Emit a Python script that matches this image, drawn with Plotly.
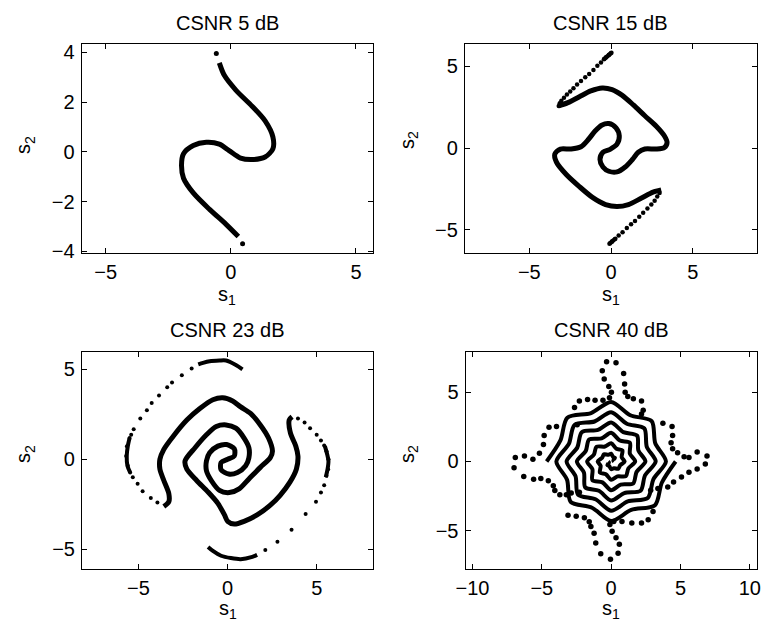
import plotly.graph_objects as go

# ---------------- data ----------------
titles = ["CSNR 5 dB", "CSNR 15 dB", "CSNR 23 dB", "CSNR 40 dB"]

# CSNR 5 dB
sp1_line_x = [-0.46, -0.26, 0.20, 0.85, 1.37, 1.68, 1.68, 1.37, 0.85, 0.39, -0.07, -0.46, -0.98, -1.50, -1.89, -1.97, -1.89, -1.50, -0.85, -0.20, 0.30]
sp1_line_y = [3.57, 3.07, 2.48, 1.83, 1.24, 0.60, 0.12, -0.21, -0.31, -0.25, 0.05, 0.31, 0.38, 0.25, -0.08, -0.54, -1.06, -1.65, -2.31, -2.90, -3.40]
sp1_dot_x = [-0.58, 0.47]
sp1_dot_y = [3.95, -3.69]

# CSNR 15 dB
sp2_line_x = [-3.20, -2.64, -1.94, -1.24, -0.54, 0.06, 0.66, 1.36, 2.06, 2.76, 3.26, 3.42, 3.26, 2.76, 2.06, 1.66, 1.30, 0.86, 0.36, -0.14, -0.50, -0.68, -0.50, -0.04, 0.36, 0.50, 0.30, -0.14, -0.58, -0.98, -1.38, -1.84, -2.44, -3.10, -3.44, -3.34, -2.74, -1.94, -1.14, -0.34, 0.36, 1.06, 1.86, 2.56, 3.06]
sp2_line_y = [2.58, 2.78, 3.14, 3.50, 3.68, 3.58, 3.24, 2.64, 1.98, 1.34, 0.74, 0.34, 0.04, -0.06, -0.06, -0.26, -0.70, -1.16, -1.46, -1.42, -1.16, -0.70, -0.26, -0.06, 0.24, 0.74, 1.24, 1.50, 1.40, 1.04, 0.54, 0.08, -0.06, -0.06, -0.36, -0.86, -1.62, -2.36, -3.02, -3.46, -3.58, -3.46, -3.06, -2.70, -2.56]
sp2_upper_x = [0.02, -0.14, -0.30, -0.44, -0.62, -0.84, -1.08, -1.34, -1.58, -1.84, -2.08, -2.30, -2.50, -2.70, -2.88, -3.04, -3.14, -3.20]
sp2_upper_y = [5.84, 5.70, 5.56, 5.44, 5.24, 5.04, 4.78, 4.54, 4.34, 4.10, 3.90, 3.66, 3.46, 3.28, 3.08, 2.90, 2.74, 2.58]
sp2_lower_x = [2.96, 2.82, 2.66, 2.46, 2.22, 1.96, 1.72, 1.46, 1.22, 0.96, 0.70, 0.46, 0.26, 0.06, -0.10]
sp2_lower_y = [-2.76, -2.96, -3.22, -3.46, -3.70, -3.96, -4.20, -4.46, -4.66, -4.90, -5.16, -5.36, -5.56, -5.72, -5.86]
sp2_tip_top_x = [0.02, -0.14, -0.30, -0.44]
sp2_tip_top_y = [5.84, 5.70, 5.56, 5.44]
sp2_tip_bot_x = [0.26, 0.06, -0.10]
sp2_tip_bot_y = [-5.56, -5.72, -5.86]

# CSNR 23 dB
sp3_main_x = [-3.58, -3.30, -3.30, -3.58, -3.80, -3.80, -3.58, -3.03, -2.29, -1.56, -0.83, -0.28, 0.28, 0.73, 1.28, 1.83, 2.29, 2.51, 2.39, 1.83, 1.19, 0.64, 0.09, -0.46, -0.92, -1.19, -1.19, -1.01, -0.55, -0.06, 0.37, 0.37, 0.00,
              -0.37, -0.37, 0.06, 0.55, 1.01, 1.19, 1.19, 0.92, 0.46, -0.09, -0.64, -1.19, -1.83, -2.39, -2.29, -1.74, -1.10, -0.55, -0.18, 0.00, 0.37, 0.92, 1.65, 2.39, 2.94, 3.49, 3.85, 3.94, 3.82, 3.52, 3.45, 3.61]
sp3_main_y = [-2.62, -2.36, -1.91, -1.18, -0.55, 0.00, 0.55, 1.31, 2.18, 2.82, 3.31, 3.42, 3.24, 2.91, 2.55, 1.91, 1.18, 0.45, 0.09, -0.45, -1.09, -1.64, -1.85, -1.73, -1.18, -0.64, -0.09, 0.36, 0.73, 0.82, 0.58, 0.18, 0.00,
              -0.18, -0.58, -0.82, -0.73, -0.36, 0.09, 0.64, 1.18, 1.73, 1.91, 1.82, 1.36, 0.64, -0.09, -0.55, -1.18, -1.82, -2.45, -3.09, -3.45, -3.60, -3.45, -3.09, -2.55, -2.00, -1.27, -0.55, 0.18, 0.73, 1.45, 2.18, 2.36]
sp3_top_x = [-1.65, -1.38, -1.01, -0.46, -0.09, 0.46, 0.83]
sp3_top_y = [5.27, 5.36, 5.45, 5.49, 5.49, 5.24, 5.00]
sp3_bot_x = [1.65, 1.38, 0.73, 0.18, -0.37, -0.83, -1.10]
sp3_bot_y = [-5.31, -5.42, -5.55, -5.49, -5.36, -5.09, -4.87]
sp3_left_x = [-5.50, -5.60, -5.66, -5.62, -5.47]
sp3_left_y = [1.18, 0.73, 0.18, -0.36, -0.73]
sp3_right_x = [5.45, 5.58, 5.65, 5.60, 5.50]
sp3_right_y = [0.73, 0.27, -0.09, -0.55, -1.00]
sp3_ldots_x = [-2.02, -2.57, -3.12, -3.39, -3.85, -4.26, -4.53, -4.90, -5.27, -5.41, -5.50, -5.65, -5.69, -5.60, -5.47, -5.32, -5.05, -4.77, -4.31, -3.94]
sp3_ldots_y = [5.05, 4.67, 4.27, 4.00, 3.55, 3.13, 2.73, 2.27, 1.67, 1.36, 1.18, 0.73, 0.18, -0.36, -0.73, -1.00, -1.36, -1.78, -2.15, -2.40]
sp3_rdots_x = [3.94, 4.31, 4.62, 4.99, 5.23, 5.41, 5.54, 5.65, 5.63, 5.54, 5.41, 5.23, 4.95, 4.37, 3.58, 2.79, 2.11]
sp3_rdots_y = [2.27, 2.04, 1.73, 1.36, 1.05, 0.76, 0.45, 0.00, -0.55, -0.91, -1.45, -1.85, -2.36, -3.04, -3.91, -4.58, -5.04]

# CSNR 40 dB : two interleaved wiggly arms (read approximately) + outer dotted lobes
sp4_armA_x = [0.21, 0.16, 0.27, 0.14, 0.00, -0.20, -0.52, -0.65, -0.97, -0.76, -0.81, -0.38, 0.00, 0.45, 1.06, 1.24,
              1.73, 1.35, 1.35, 0.63, 0.00, -0.69, -1.59, -1.83, -2.47, -1.96, -1.87, -0.88, 0.00, 0.95, 2.12, 2.44,
              3.21, 2.57, 2.39, 1.13, 0.00, -1.20, -2.64, -3.05, -3.95, -3.18, -2.92, -1.38, 0.00, 1.45, 3.16, 3.66, 4.65]
sp4_armA_y = [0.00, 0.07, 0.27, 0.33, 0.56, 0.49, 0.52, 0.27, 0.00, -0.31, -0.81, -0.92, -1.32, -1.08, -1.06, -0.51,
              0.00, 0.56, 1.35, 1.51, 2.08, 1.67, 1.59, 0.76, 0.00, -0.81, -1.87, -2.12, -2.82, -2.28, -2.12, -1.01,
              0.00, 1.06, 2.39, 2.73, 3.56, 2.89, 2.64, 1.27, 0.00, -1.32, -2.92, -3.34, -4.30, -3.50, -3.16, -1.52, 0.00]
sp4_armB_x = [-0.21, -0.16, -0.27, -0.14, 0.00, 0.20, 0.52, 0.65, 0.97, 0.76, 0.81, 0.38, 0.00, -0.45, -1.06, -1.24,
              -1.73, -1.35, -1.35, -0.63, 0.00, 0.69, 1.59, 1.83, 2.47, 1.96, 1.87, 0.88, 0.00, -0.95, -2.12, -2.44,
              -3.21, -2.57, -2.39, -1.13, 0.00, 1.20, 2.64, 3.05, 3.95, 3.18, 2.92, 1.38, 0.00, -1.45, -3.16, -3.66, -4.65]
sp4_armB_y = [0.00, -0.07, -0.27, -0.33, -0.56, -0.49, -0.52, -0.27, 0.00, 0.31, 0.81, 0.92, 1.32, 1.08, 1.06, 0.51,
              0.00, -0.56, -1.35, -1.51, -2.08, -1.67, -1.59, -0.76, 0.00, 0.81, 1.87, 2.12, 2.82, 2.28, 2.12, 1.01,
              0.00, -1.06, -2.39, -2.73, -3.56, -2.89, -2.64, -1.27, 0.00, 1.32, 2.92, 3.34, 4.30, 3.50, 3.16, 1.52, 0.00]
sp4_top_x = [-2.45, -2.64, -2.29, -1.70, -1.16, -0.59, -0.12, 0.02, -0.17, -0.50, -0.64, -0.33, 0.35, 0.90, 0.97, 1.01, 1.20, 1.60, 2.19, 2.31, 2.19]
sp4_top_y = [2.65, 3.90, 4.37, 4.47, 4.42, 4.42, 4.61, 5.01, 5.41, 5.96, 6.55, 7.21, 7.14, 6.36, 5.60, 5.01, 4.70, 4.54, 4.37, 3.71, 3.43]
sp4_right_x = [3.73, 4.39, 4.43, 4.32, 4.43, 4.79, 5.26, 5.61, 6.20, 6.91, 6.79, 6.20, 5.61, 5.07, 4.50, 4.08, 3.37, 2.85]
sp4_right_y = [2.77, 2.53, 1.87, 1.35, 0.92, 0.64, 0.35, 0.28, 0.69, 0.40, -0.19, -0.54, -0.78, -1.13, -1.49, -1.84, -1.96, -2.08]
sp4_left_x = [-3.94, -4.48, -4.83, -4.88, -5.17, -5.64, -6.25, -6.91, -7.00, -6.30, -5.59, -5.07, -4.53, -4.17, -4.06, -3.70, -3.23, -2.88, -2.29]
sp4_left_y = [2.53, 2.48, 1.87, 1.23, 0.59, 0.17, 0.40, 0.28, -0.45, -1.09, -1.28, -1.23, -1.39, -1.75, -2.10, -2.41, -2.41, -2.27, -2.22]
sp4_bot_x = [-3.11, -2.52, -1.93, -1.58, -1.46, -1.23, -1.11, -0.75, -0.05, 0.50, 0.59, 0.35, 0.07, -0.09, 0.19, 0.78, 1.49, 2.19, 2.67, 3.02]
sp4_bot_y = [-3.88, -3.95, -4.07, -4.35, -4.70, -5.18, -5.89, -6.67, -7.07, -6.64, -5.98, -5.51, -5.04, -4.56, -4.33, -4.33, -4.44, -4.44, -4.21, -3.62]

# axis ranges / ticks
ranges = [([-5.96, 5.69], [-4.07, 4.32]),
          ([-8.94, 8.92], [-6.44, 6.36]),
          ([-8.17, 8.16], [-6.09, 5.96]),
          ([-10.5, 10.52], [-7.76, 7.91])]
xticks = [[-5, 0, 5], [-5, 0, 5], [-5, 0, 5], [-10, -5, 0, 5, 10]]
yticks = [[-4, -2, 0, 2, 4], [-5, 0, 5], [-5, 0, 5], [-5, 0, 5]]

# ---------------- figure ----------------
W, H = 765, 639
FONT = "Liberation Sans, Arial, Helvetica, sans-serif"
FS = 20
doms = [((73, 370), (42, 255)), ((463.3, 761), (42, 255)),
        ((73.3, 370), (355.7, 576.7)), ((464, 761), (355.7, 576.7))]

fig = go.Figure()
axn = ["", "2", "3", "4"]


def line(i, x, y, w=5):
    fig.add_trace(go.Scatter(x=x, y=y, mode="lines", xaxis="x" + axn[i], yaxis="y" + axn[i],
                             line=dict(color="black", width=w, shape="spline", smoothing=0.8),
                             hoverinfo="skip", showlegend=False))


def dots(i, x, y, s=4):
    fig.add_trace(go.Scatter(x=x, y=y, mode="markers", xaxis="x" + axn[i], yaxis="y" + axn[i],
                             marker=dict(color="black", size=s, line=dict(width=0)),
                             hoverinfo="skip", showlegend=False))


line(0, sp1_line_x, sp1_line_y)
dots(0, sp1_dot_x, sp1_dot_y, 5)

line(1, sp2_line_x, sp2_line_y)
dots(1, sp2_upper_x, sp2_upper_y, 4.5)
dots(1, sp2_lower_x, sp2_lower_y, 4.5)
line(1, sp2_tip_top_x, sp2_tip_top_y, 4.5)
line(1, sp2_tip_bot_x, sp2_tip_bot_y, 4.5)

line(2, sp3_main_x, sp3_main_y)
line(2, sp3_top_x, sp3_top_y, 4)
line(2, sp3_bot_x, sp3_bot_y, 4)
line(2, sp3_left_x, sp3_left_y, 4)
line(2, sp3_right_x, sp3_right_y, 4)
dots(2, sp3_ldots_x, sp3_ldots_y, 4)
dots(2, sp3_rdots_x, sp3_rdots_y, 4)

line(3, sp4_armA_x, sp4_armA_y, 4)
line(3, sp4_armB_x, sp4_armB_y, 4)
dots(3, sp4_top_x, sp4_top_y, 5.5)
dots(3, sp4_right_x, sp4_right_y, 5.5)
dots(3, sp4_left_x, sp4_left_y, 5.5)
dots(3, sp4_bot_x, sp4_bot_y, 5.5)

layout = dict(width=W, height=H, margin=dict(l=0, r=0, t=0, b=0),
              paper_bgcolor="white", plot_bgcolor="white",
              font=dict(family=FONT, size=FS, color="black"))
annotations = []
for i in range(4):
    (x0, x1), (y0, y1) = doms[i]
    xr, yr = ranges[i]
    common = dict(showline=True, linecolor="black", linewidth=1, mirror="ticks",
                  ticks="inside", ticklen=5, tickwidth=1, tickcolor="black",
                  showgrid=False, zeroline=False, fixedrange=True,
                  tickfont=dict(family=FONT, size=FS, color="black"))
    layout["xaxis" + axn[i]] = dict(domain=[x0 / W, x1 / W], range=xr, tickvals=xticks[i],
                                    anchor="y" + axn[i], ticklabelstandoff=1, **common)
    layout["yaxis" + axn[i]] = dict(domain=[1 - y1 / H, 1 - y0 / H], range=yr, tickvals=yticks[i],
                                    anchor="x" + axn[i], ticklabelstandoff=2, **common)
    cx = (x0 + x1) / 2 / W
    ty = 20 if i < 2 else 333
    annotations.append(dict(text=titles[i], x=cx, y=1 - ty / H, xref="paper", yref="paper",
                            xanchor="center", yanchor="middle", showarrow=False,
                            font=dict(family=FONT, size=FS, color="black")))
    ly = 298 if i < 2 else 618
    annotations.append(dict(text="s<sub>1</sub>", x=cx, y=1 - ly / H, xref="paper", yref="paper",
                            xanchor="center", yanchor="middle", showarrow=False,
                            font=dict(family=FONT, size=FS, color="black")))
    sx = 15 if i % 2 == 0 else 406
    sy = (145 if i == 0 else 140) if i < 2 else 460
    annotations.append(dict(text="s<sub>2</sub>", x=sx / W, y=1 - sy / H, xref="paper", yref="paper",
                            xanchor="center", yanchor="middle", showarrow=False, textangle=-90,
                            font=dict(family=FONT, size=FS, color="black")))
layout["annotations"] = annotations
fig.update_layout(**layout)
fig.write_html("out.html")
